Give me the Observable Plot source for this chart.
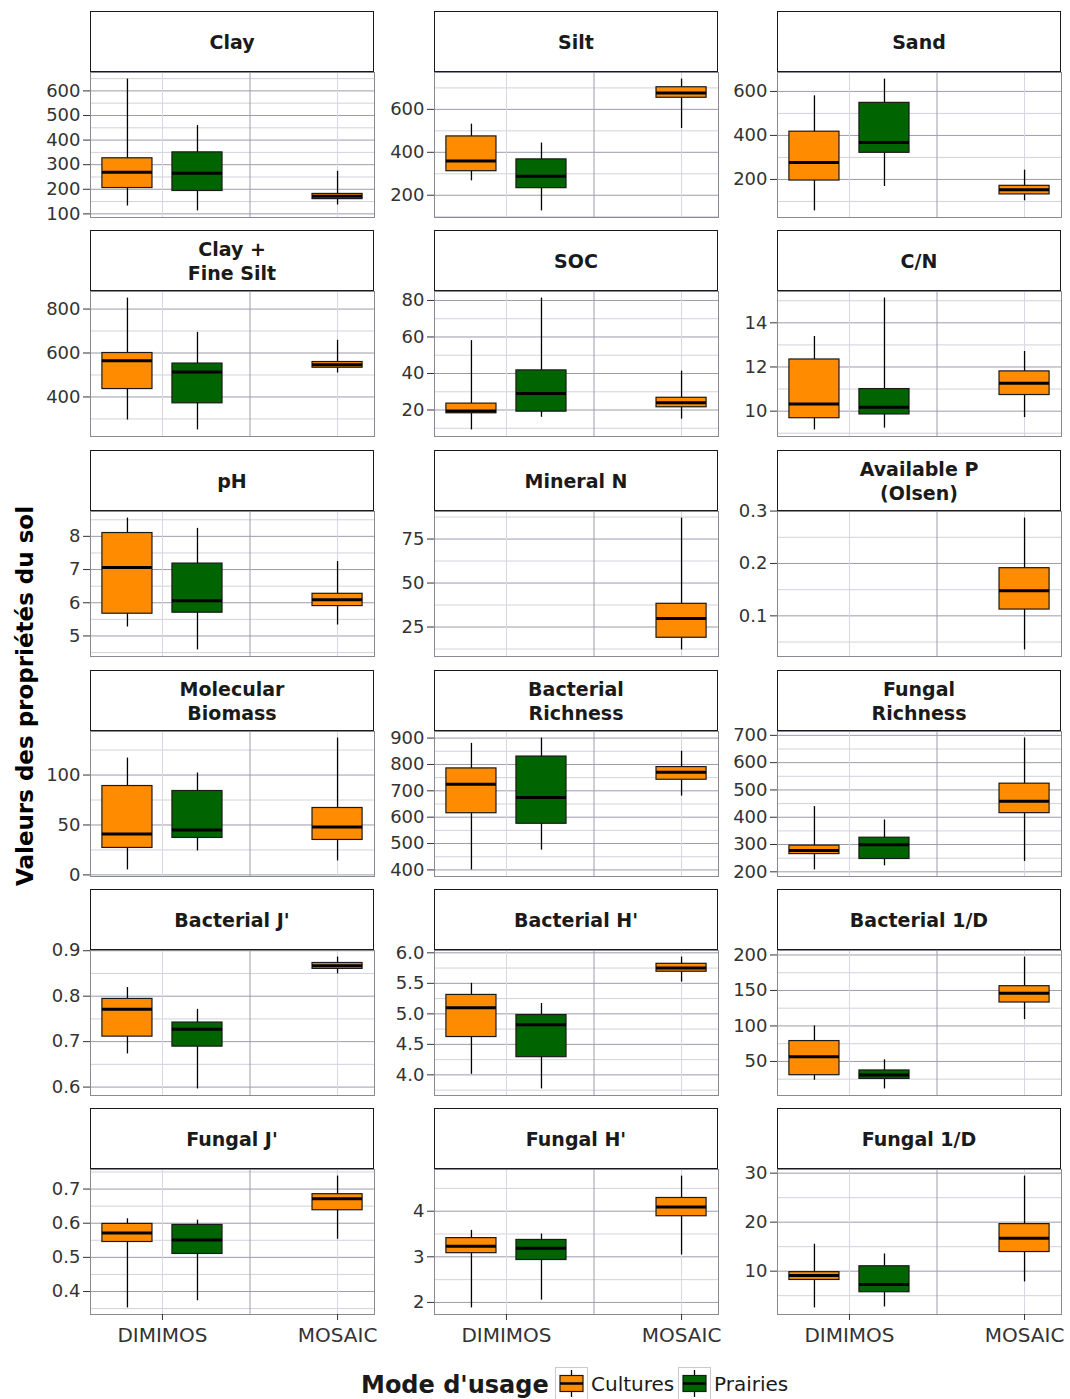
<!DOCTYPE html>
<html><head><meta charset="utf-8">
<script src="https://cdn.jsdelivr.net/npm/d3@7"></script>
<script src="https://cdn.jsdelivr.net/npm/@observablehq/plot@0.6"></script>
<style>
body{margin:0;background:#fff;font-family:"DejaVu Sans",sans-serif;}
#root{position:relative;width:1070px;height:1399px;overflow:hidden;background:#fff;}
.strip{position:absolute;box-sizing:border-box;border:1.5px solid #1a1a1a;background:#fff;display:flex;align-items:center;justify-content:center;text-align:center;font-weight:bold;font-size:19px;line-height:24px;color:#1a1a1a;white-space:pre-line;}
.cell{position:absolute;}
.ytitle{position:absolute;left:25px;top:696px;transform:translate(-50%,-50%) rotate(-90deg);white-space:nowrap;font-weight:bold;font-size:23px;color:#000;}
.leg{position:absolute;white-space:nowrap;color:#1a1a1a;}
</style></head><body><div id="root"></div>
<script>
// ---------- data ----------
const variables = ["Clay","Silt","Sand","Clay +\nFine Silt","SOC","C/N","pH","Mineral N","Available P\n(Olsen)",
  "Molecular\nBiomass","Bacterial\nRichness","Fungal\nRichness","Bacterial J'","Bacterial H'","Bacterial 1/D",
  "Fungal J'","Fungal H'","Fungal 1/D"];
const sites = ["DIMIMOS","MOSAIC"];
const usages = ["Cultures","Prairies"];
const usageColors = ["#FF8C00","#006400"];
const boxSite  = ["DIMIMOS","DIMIMOS","MOSAIC"];
const boxUsage = ["Cultures","Prairies","Cultures"];

const whiskerLow = [[132,112,136],[267,127,511],[57,168,103],[295,250,509],[9.1,16,15],[9.15,9.23,9.71],
  [5.27,4.58,5.33],[null,null,12],[null,null,0.035],[5,24,14],[400,475,680],[207,222,238],
  [0.673,0.596,0.849],[4.01,3.77,5.52],[23.5,11.3,109],[0.352,0.373,0.553],[1.88,2.05,3.04],[2.5,2.7,7.8]];
const boxLow = [[205,193,160],[312,233,654],[195,321,132],[436,371,533],[18.2,19.1,21.5],[9.68,9.85,10.73],
  [5.67,5.7,5.9],[null,null,18.9],[null,null,0.112],[27,37,35],[615,575,742],[265,247,415],
  [0.711,0.689,0.860],[4.62,4.29,5.69],[30.6,25.4,133],[0.545,0.510,0.638],[3.08,2.93,3.89],[8.2,5.7,13.9]];
const medians = [[269,265,172],[360,288,676],[277,368,153],[565,514,547],[19.5,29,24],[10.32,10.18,11.26],
  [7.06,6.06,6.09],[null,null,29.8],[null,null,0.148],[41,45,48],[725,675,770],[278,299,459],
  [0.771,0.727,0.867],[5.10,4.82,5.75],[56.5,31,146],[0.571,0.551,0.672],[3.23,3.19,4.09],[9.1,7.3,16.7]];
const boxHigh = [[326,350,181],[474,367,703],[417,548,171],[600,552,559],[23.5,41.7,26.7],[12.34,11.0,11.8],
  [8.1,7.18,6.27],[null,null,38.2],[null,null,0.191],[89,84,67],[785,830,790],[296,325,523],
  [0.794,0.742,0.873],[5.31,4.98,5.82],[78.7,37.3,156],[0.598,0.595,0.685],[3.41,3.37,4.29],[9.8,11,19.6]];
const whiskerHigh = [[648,459,273],[531,443,741],[580,656,242],[850,694,658],[58,81.3,41.3],[13.38,15.12,12.7],
  [8.55,8.24,7.24],[null,null,86.9],[null,null,0.2866],[117,102,137],[880,900,850],[439,390,690],
  [0.819,0.771,0.886],[5.5,5.17,5.93],[100,52.3,197],[0.613,0.609,0.738],[3.58,3.5,4.77],[15.5,13.5,29.4]];

const yTickLabels = [
  ["100","200","300","400","500","600"],["200","400","600"],["200","400","600"],["400","600","800"],
  ["20","40","60","80"],["10","12","14"],["5","6","7","8"],["25","50","75"],["0.1","0.2","0.3"],
  ["0","50","100"],["400","500","600","700","800","900"],["200","300","400","500","600","700"],
  ["0.6","0.7","0.8","0.9"],["4.0","4.5","5.0","5.5","6.0"],["50","100","150","200"],
  ["0.4","0.5","0.6","0.7"],["2","3","4"],["10","20","30"]];

// ---------- layout ----------
const PANEL_X = [90, 434, 777], PANEL_W = 284;
const STRIP_TOP = [11, 230, 450, 670, 889, 1108], STRIP_H = 61, PANEL_H = 145;
const ML = 72, MR = 8, MT = 10;
const root = document.getElementById("root");
const color = {domain: usages, range: usageColors};

variables.forEach((name, p) => {
  const r = Math.floor(p / 3), c = p % 3;
  const last = r === 5;
  const boxes = [];
  for (let k = 0; k < 3; k++) {
    if (medians[p][k] == null) continue;
    const s = boxSite[k];
    const siteHasBoth = boxSite.filter((b, j) => b === s && medians[p][j] != null).length > 1;
    const pos = sites.indexOf(s) + 1 + (siteHasBoth ? (boxUsage[k] === usages[0] ? -0.2 : 0.2) : 0);
    boxes.push({site: s, usage: boxUsage[k], pos,
      lo: whiskerLow[p][k], q1: boxLow[p][k], med: medians[p][k], q3: boxHigh[p][k], hi: whiskerHigh[p][k]});
  }
  const vmin = d3.min(boxes, d => d.lo), vmax = d3.max(boxes, d => d.hi);
  const pad = (vmax - vmin) * 0.05;
  const ydom = [vmin - pad, vmax + pad];
  const ticks = yTickLabels[p].map(Number);
  const labelOf = new Map(ticks.map((t, i) => [t, yTickLabels[p][i]]));
  const step = ticks[1] - ticks[0];
  const minor = [ticks[0] - step / 2, ...ticks.map(t => t + step / 2)].filter(v => v >= ydom[0] && v <= ydom[1]);
  const major = ticks.filter(v => v >= ydom[0] && v <= ydom[1]);
  const hw = 0.143;
  const MB = last ? 50 : 2;

  const marks = [
    Plot.ruleY(minor, {stroke: "#cdcdd8", strokeWidth: 0.9}),
    Plot.ruleY(major, {stroke: "#9c9cae", strokeWidth: 1}),
    Plot.ruleX([1, 2], {stroke: "#d6d6e4", strokeWidth: 1}),
    Plot.ruleX([1.5], {stroke: "#9c9cae", strokeWidth: 1}),
    Plot.ruleX(boxes, {x: "pos", y1: "lo", y2: "hi", stroke: "#000", strokeWidth: 1.3}),
    Plot.rect(boxes, {x1: d => d.pos - hw, x2: d => d.pos + hw, y1: "q1", y2: "q3", fill: "usage", stroke: "#1a1a1a", strokeWidth: 1.2}),
    Plot.ruleY(boxes, {y: "med", x1: d => d.pos - hw, x2: d => d.pos + hw, stroke: "#000", strokeWidth: 3}),
    Plot.frame({stroke: "#8a8a96", strokeWidth: 1}),
    Plot.axisY(ticks, {anchor: "left", tickSize: 7, tickPadding: 3, fontSize: 18, tickFormat: d => labelOf.get(d)})
  ];
  if (last) marks.push(Plot.axisX([1, 2], {anchor: "bottom", tickSize: 6, tickPadding: 7, fontSize: 20, tickFormat: d => sites[d - 1]}));

  const opts = {
    width: ML + PANEL_W + MR, height: MT + PANEL_H + MB,
    marginLeft: ML, marginRight: MR, marginTop: MT, marginBottom: MB,
    x: {domain: [0.589, 2.211], label: null},
    y: {domain: ydom, label: null},
    color,
    style: {background: "transparent", overflow: "visible", fontFamily: "DejaVu Sans, sans-serif", color: "#333"},
    marks
  };
  if (!last) opts.x.axis = null;
  const svg = Plot.plot(opts);
  const cell = document.createElement("div");
  cell.className = "cell";
  cell.style.left = (PANEL_X[c] - ML) + "px";
  cell.style.top = (STRIP_TOP[r] + STRIP_H - MT) + "px";
  cell.appendChild(svg);
  root.appendChild(cell);

  const strip = document.createElement("div");
  strip.className = "strip";
  strip.style.left = PANEL_X[c] + "px";
  strip.style.top = STRIP_TOP[r] + "px";
  strip.style.width = PANEL_W + "px";
  strip.style.height = STRIP_H + "px";
  strip.textContent = name;
  root.appendChild(strip);
});

// y-axis title
const yt = document.createElement("div");
yt.className = "ytitle";
yt.textContent = "Valeurs des propriétés du sol";
root.appendChild(yt);

// legend
function addText(txt, left, top, size, bold) {
  const d = document.createElement("div");
  d.className = "leg";
  d.style.left = left + "px"; d.style.top = top + "px";
  d.style.fontSize = size + "px"; d.style.fontWeight = bold ? "bold" : "normal";
  d.textContent = txt; root.appendChild(d);
}
function addKey(left, fill) {
  const ns = "http://www.w3.org/2000/svg";
  const s = document.createElementNS(ns, "svg");
  s.setAttribute("width", 33); s.setAttribute("height", 33);
  s.style.position = "absolute"; s.style.left = left + "px"; s.style.top = "1367px";
  s.innerHTML = `<rect x="0.5" y="0.5" width="32" height="32" fill="#fff" stroke="#d0c8cc"/>
    <line x1="16.5" y1="3" x2="16.5" y2="30" stroke="#000" stroke-width="1.3"/>
    <rect x="5" y="8.5" width="23" height="16" fill="${fill}" stroke="#1a1a1a" stroke-width="1.2"/>
    <line x1="5" y1="16.5" x2="28" y2="16.5" stroke="#000" stroke-width="2.5"/>`;
  root.appendChild(s);
}
addText("Mode d'usage", 361, 1371, 24, true);
addKey(555, usageColors[0]);
addText(usages[0], 591, 1372, 20, false);
addKey(678, usageColors[1]);
addText(usages[1], 714, 1372, 20, false);
</script></body></html>
